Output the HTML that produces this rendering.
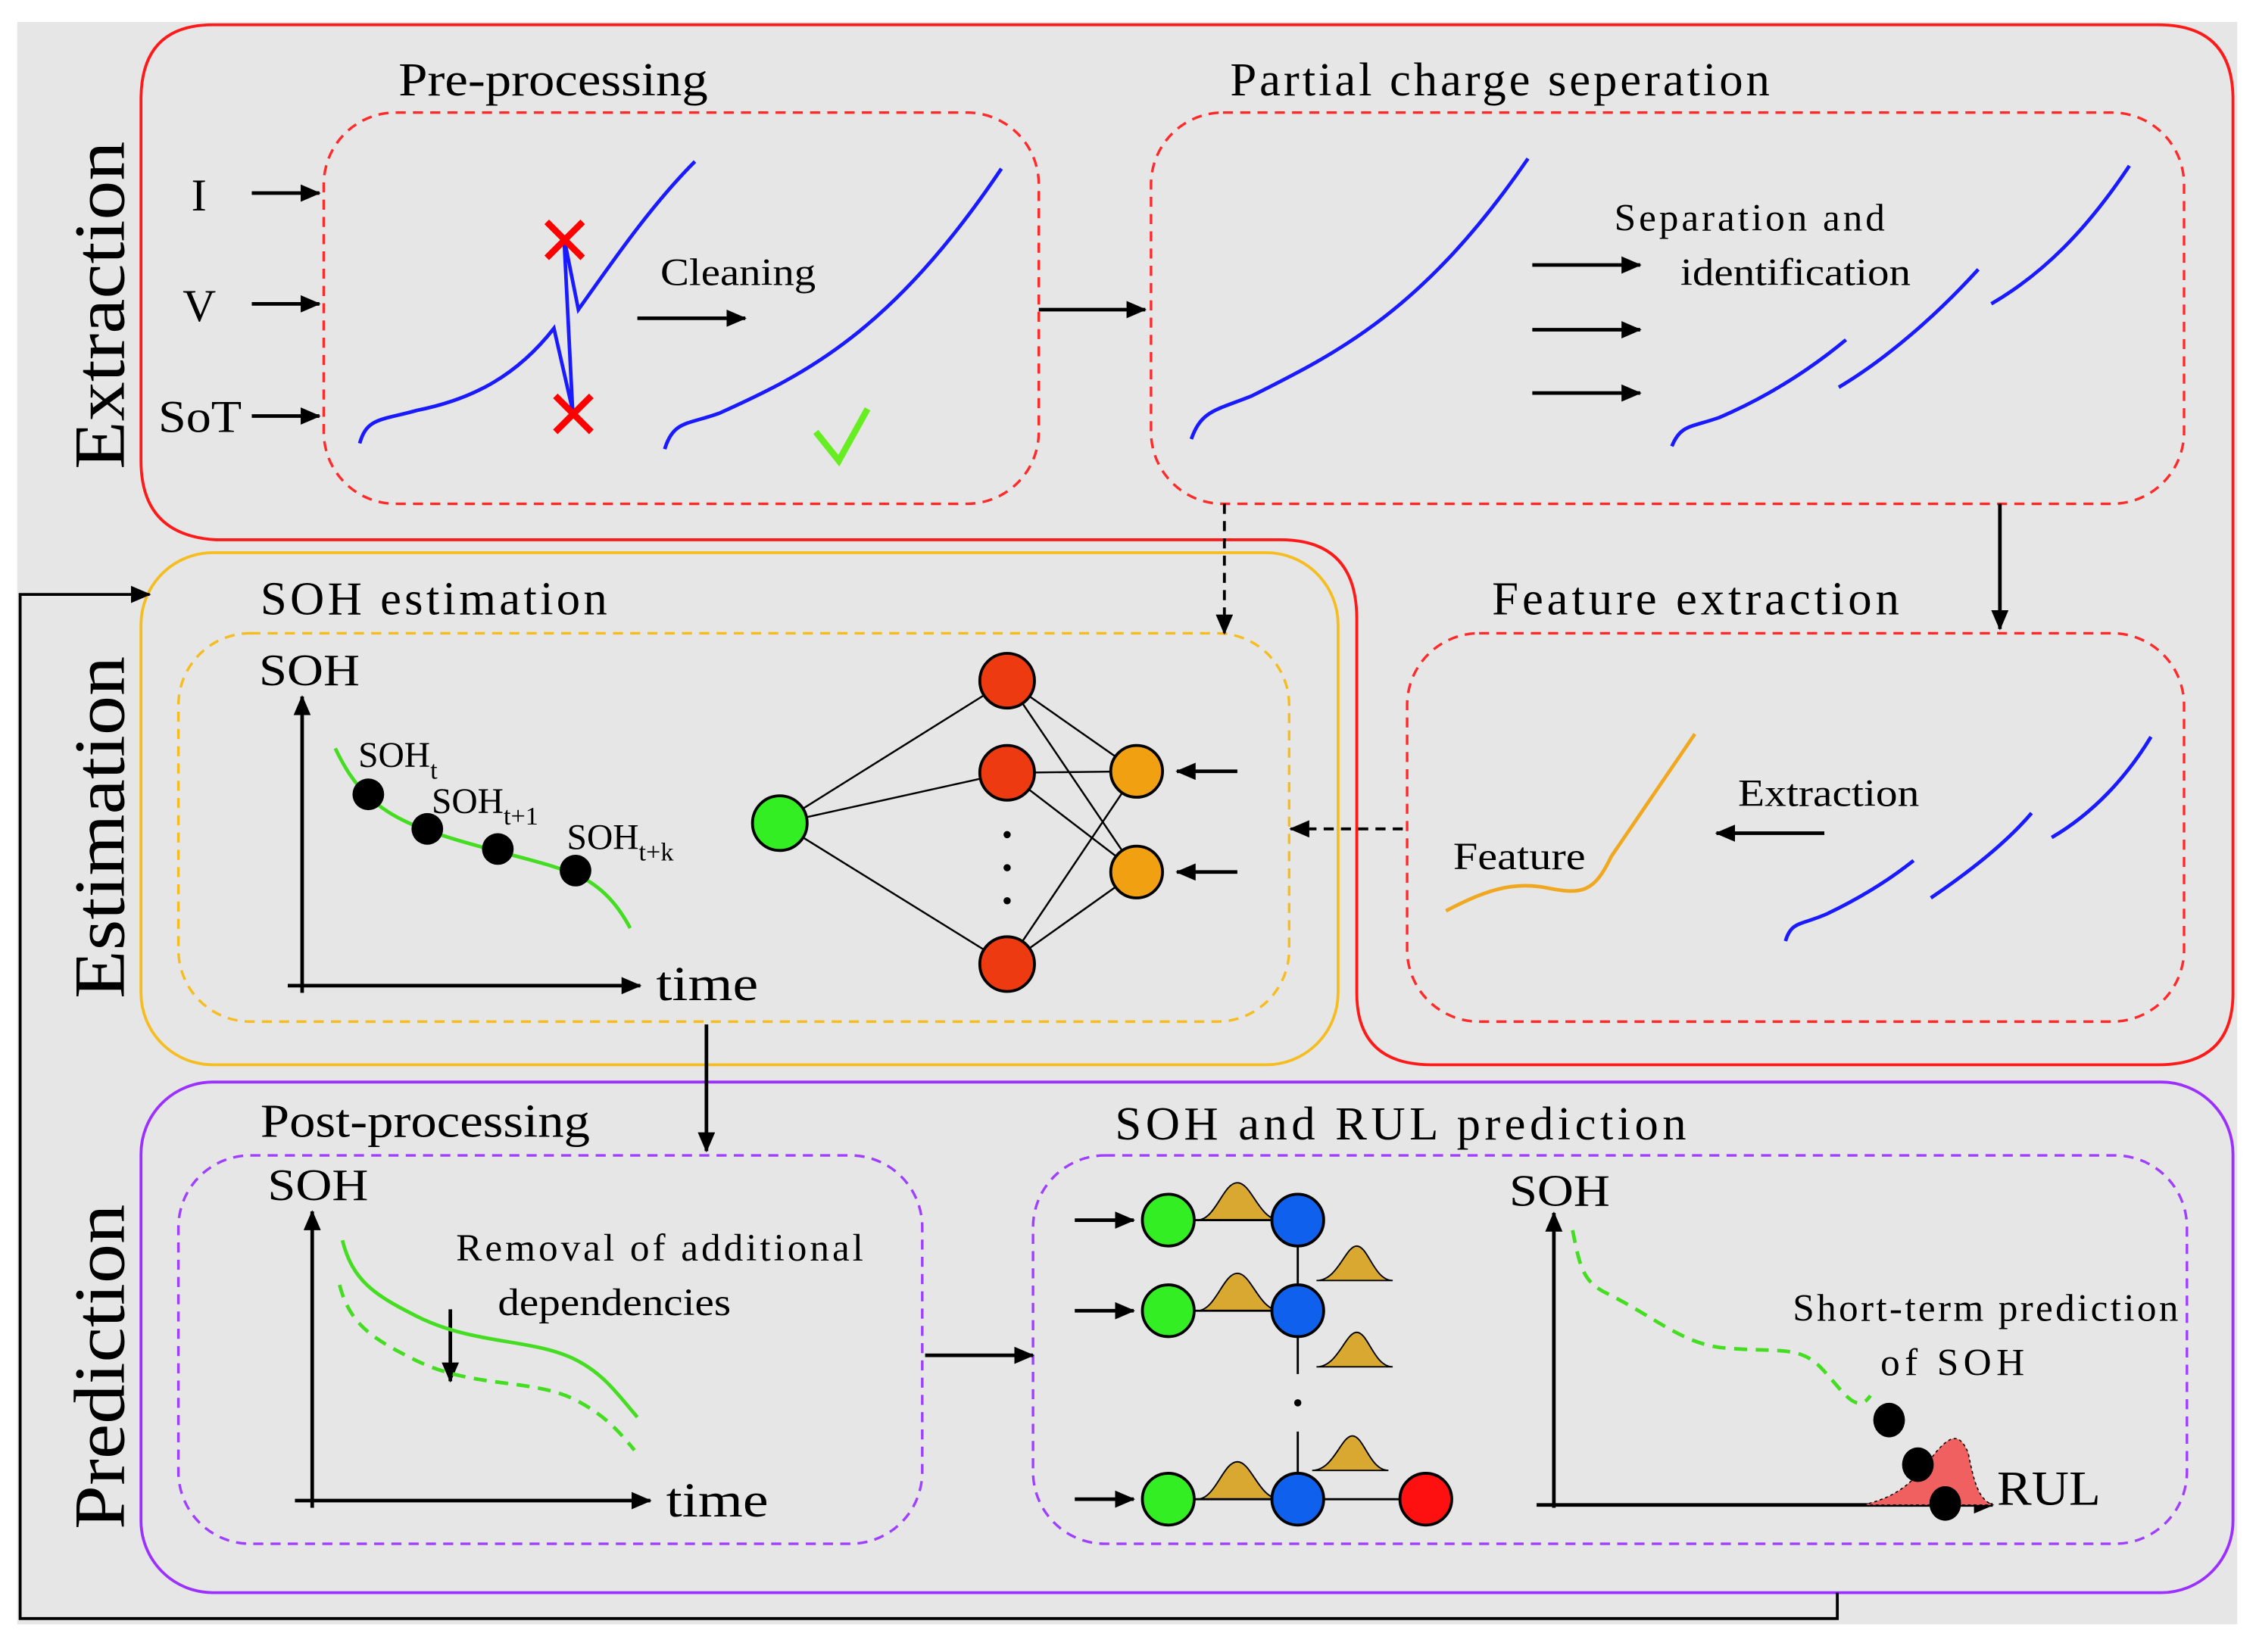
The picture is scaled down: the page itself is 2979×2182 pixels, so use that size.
<!DOCTYPE html>
<html><head><meta charset="utf-8"><style>
html,body{margin:0;padding:0;background:#fff;}
svg{display:block;}
text{font-family:"Liberation Serif",serif;fill:#000;}
</style></head><body>
<svg width="2979" height="2182" viewBox="0 0 1568 1148" xmlns="http://www.w3.org/2000/svg">
<defs>
<marker id="b" markerWidth="14" markerHeight="12" refX="13" refY="6" orient="auto" markerUnits="userSpaceOnUse"><path d="M0,0 L14,6 L0,12 Z" fill="#000"/></marker>
</defs>
<rect x="12" y="15" width="1543" height="1114" fill="#e6e6e6"/>

<path d="M148,17 H1500 Q1552,17 1552,69 V690 Q1552,740 1500,740 H995 Q943,740 943,690 V430 Q943,375 890,375 H150 Q98,372 98,320 V69 Q98,17 148,17 Z" fill="none" stroke="#ff1a1a" stroke-width="2"/>
<rect x="98" y="384" width="832" height="356" rx="50" fill="none" stroke="#f5bd1f" stroke-width="2"/>
<rect x="98" y="752" width="1454" height="355" rx="50" fill="none" stroke="#9b30ff" stroke-width="2"/>

<g fill="none" stroke-width="1.8" stroke-dasharray="7,5">
<rect x="225" y="78" width="497" height="272" rx="50" stroke="#ff2a2a"/>
<rect x="800" y="78" width="718" height="272" rx="50" stroke="#ff2a2a"/>
<rect x="978" y="440" width="540" height="270" rx="50" stroke="#ff2a2a"/>
<rect x="124" y="440" width="772" height="270" rx="50" stroke="#f5bd1f"/>
<rect x="124" y="803" width="517" height="270" rx="50" stroke="#a040ff"/>
<rect x="718" y="803" width="802" height="270" rx="50" stroke="#a040ff"/>
</g>

<text transform="translate(86,212) rotate(-90)" font-size="50" text-anchor="middle" textLength="228" lengthAdjust="spacingAndGlyphs">Extraction</text>
<text transform="translate(86,575) rotate(-90)" font-size="50" text-anchor="middle" textLength="238" lengthAdjust="spacingAndGlyphs">Estimation</text>
<text transform="translate(86,950) rotate(-90)" font-size="50" text-anchor="middle" textLength="226" lengthAdjust="spacingAndGlyphs">Prediction</text>

<g font-size="33">
<text x="277" y="66" textLength="215" lengthAdjust="spacingAndGlyphs">Pre-processing</text>
<text x="855" y="66" textLength="375" lengthAdjust="spacing">Partial charge seperation</text>
<text x="181" y="427" textLength="241" lengthAdjust="spacing">SOH estimation</text>
<text x="1037" y="427" textLength="283" lengthAdjust="spacing">Feature extraction</text>
<text x="181" y="790" textLength="229" lengthAdjust="spacingAndGlyphs">Post-processing</text>
<text x="775" y="792" textLength="397" lengthAdjust="spacing">SOH and RUL prediction</text>
</g>

<polyline points="1277,1107 1277,1125 14,1125 14,413 104,413" fill="none" stroke="#000" stroke-width="2" marker-end="url(#b)"/>

<g stroke="#000" stroke-width="2.5" fill="none" marker-end="url(#b)">
<line x1="175" y1="134" x2="222" y2="134"/>
<line x1="175" y1="211" x2="222" y2="211"/>
<line x1="175" y1="289" x2="222" y2="289"/>
<line x1="443" y1="221" x2="518" y2="221"/>
<line x1="722" y1="215" x2="796" y2="215"/>
<line x1="1065" y1="184" x2="1140" y2="184"/>
<line x1="1065" y1="229" x2="1140" y2="229"/>
<line x1="1065" y1="273" x2="1140" y2="273"/>
<line x1="1390" y1="350" x2="1390" y2="437"/>
<line x1="1268" y1="579" x2="1193" y2="579"/>
<line x1="491" y1="712" x2="491" y2="800"/>
<line x1="643" y1="942" x2="718" y2="942"/>
<line x1="860" y1="536" x2="818" y2="536"/>
<line x1="860" y1="606" x2="818" y2="606"/>
<line x1="747" y1="848" x2="788" y2="848"/>
<line x1="747" y1="911" x2="788" y2="911"/>
<line x1="747" y1="1042" x2="788" y2="1042"/>
<line x1="313" y1="910" x2="313" y2="960"/>
</g>
<g stroke="#000" stroke-width="2" fill="none" stroke-dasharray="7,5" marker-end="url(#b)">
<line x1="851" y1="350" x2="851" y2="440"/>
<line x1="975" y1="576" x2="897" y2="576"/>
</g>

<g font-size="32">
<text x="133" y="146">I</text>
<text x="127" y="223">V</text>
<text x="110" y="300" textLength="58" lengthAdjust="spacingAndGlyphs">SoT</text>
</g>
<text x="459" y="198" font-size="27" textLength="108" lengthAdjust="spacingAndGlyphs">Cleaning</text>
<text x="1122" y="160" font-size="27" textLength="188" lengthAdjust="spacing">Separation and</text>
<text x="1168" y="198" font-size="27" textLength="160" lengthAdjust="spacingAndGlyphs">identification</text>
<text x="1208" y="560" font-size="27" textLength="126" lengthAdjust="spacingAndGlyphs">Extraction</text>
<text x="1010" y="604" font-size="27" textLength="92" lengthAdjust="spacingAndGlyphs">Feature</text>

<g fill="none" stroke="#1a1aff" stroke-width="2.5">
<path d="M250,308 C255,290 265,292 290,285 C330,277 360,260 385,228 L398,285 L392,165 L402,215 C420,190 450,145 483,112"/>
<path d="M462,312 C468,292 478,295 500,287 C560,260 620,230 696,117"/>
<path d="M828,305 C835,285 845,285 870,275 C930,245 990,215 1062,110"/>
<path d="M1162,310 C1168,295 1175,297 1195,290 C1230,275 1260,255 1283,236"/>
<path d="M1278,269 C1310,250 1345,220 1375,187"/>
<path d="M1384,211 C1420,190 1450,160 1480,115"/>
<path d="M1241,654 C1245,640 1252,643 1270,635 C1295,623 1315,610 1330,598"/>
<path d="M1342,624 C1370,605 1395,585 1412,565"/>
<path d="M1426,582 C1455,565 1478,540 1495,512"/>
</g>
<g stroke="#ff0000" stroke-width="4.5">
<line x1="380" y1="154" x2="405" y2="179"/><line x1="405" y1="154" x2="380" y2="179"/>
<line x1="386" y1="275" x2="411" y2="300"/><line x1="411" y1="275" x2="386" y2="300"/>
</g>
<path d="M567,300 L583,320 L603,284" fill="none" stroke="#66ee22" stroke-width="4.5"/>
<path d="M1005,633 C1030,620 1050,612 1075,617 C1100,622 1108,620 1120,595 L1178,510" fill="none" stroke="#f0a820" stroke-width="2.5"/>

<g stroke="#000" stroke-width="2.5" fill="none">
<line x1="210" y1="690" x2="210" y2="484" marker-end="url(#b)"/>
<line x1="200" y1="685" x2="445" y2="685" marker-end="url(#b)"/>
</g>
<path d="M233,520 C245,545 260,565 300,578 C340,592 380,598 405,610 C420,618 430,630 438,645" fill="none" stroke="#44dd22" stroke-width="2.5"/>
<g fill="#000"><circle cx="256" cy="552" r="11"/><circle cx="297" cy="576" r="11"/><circle cx="346" cy="590" r="11"/><circle cx="400" cy="605" r="11"/></g>
<text x="180" y="476" font-size="31" textLength="70" lengthAdjust="spacingAndGlyphs">SOH</text>
<text x="249" y="533" font-size="25">SOH<tspan font-size="18" dy="8">t</tspan></text>
<text x="300" y="565" font-size="25">SOH<tspan font-size="18" dy="8">t+1</tspan></text>
<text x="394" y="590" font-size="25">SOH<tspan font-size="18" dy="8">t+k</tspan></text>
<text x="456" y="695" font-size="34" textLength="71" lengthAdjust="spacingAndGlyphs">time</text>

<g stroke="#000" stroke-width="1.3">
<line x1="542" y1="572" x2="700" y2="473"/><line x1="542" y1="572" x2="700" y2="537"/><line x1="542" y1="572" x2="700" y2="670"/>
<line x1="700" y1="473" x2="790" y2="536"/><line x1="700" y1="473" x2="790" y2="606"/>
<line x1="700" y1="537" x2="790" y2="536"/><line x1="700" y1="537" x2="790" y2="606"/>
<line x1="700" y1="670" x2="790" y2="536"/><line x1="700" y1="670" x2="790" y2="606"/>
</g>
<g stroke="#000" stroke-width="2">
<circle cx="542" cy="572" r="19" fill="#33ee22"/>
<circle cx="700" cy="473" r="19" fill="#ee3a10"/>
<circle cx="700" cy="537" r="19" fill="#ee3a10"/>
<circle cx="700" cy="670" r="19" fill="#ee3a10"/>
<circle cx="790" cy="536" r="18" fill="#f0a010"/>
<circle cx="790" cy="606" r="18" fill="#f0a010"/>
</g>
<g fill="#000"><circle cx="700" cy="580" r="2.5"/><circle cx="700" cy="603" r="2.5"/><circle cx="700" cy="626" r="2.5"/></g>

<g stroke="#000" stroke-width="2.5" fill="none">
<line x1="217" y1="1048" x2="217" y2="842" marker-end="url(#b)"/>
<line x1="205" y1="1043" x2="452" y2="1043" marker-end="url(#b)"/>
</g>
<path d="M238,862 C245,890 260,900 290,915 C330,935 370,930 400,945 C420,955 430,970 443,985" fill="none" stroke="#44dd22" stroke-width="2.5"/>
<path d="M236,893 C243,920 258,930 288,945 C328,965 368,958 398,972 C418,982 428,992 441,1008" fill="none" stroke="#44dd22" stroke-width="2.5" stroke-dasharray="9,6"/>
<text x="186" y="834" font-size="31" textLength="70" lengthAdjust="spacingAndGlyphs">SOH</text>
<text x="317" y="876" font-size="27" textLength="283" lengthAdjust="spacing">Removal of additional</text>
<text x="346" y="914" font-size="27" textLength="162" lengthAdjust="spacingAndGlyphs">dependencies</text>
<text x="463" y="1054" font-size="34" textLength="71" lengthAdjust="spacingAndGlyphs">time</text>

<g fill="#d8a830" stroke="#000" stroke-width="1">
<path d="M832,848 C845,848 850,822 860,822 C870,822 875,848 890,848 Z"/>
<path d="M832,911 C845,911 850,885 860,885 C870,885 875,911 890,911 Z"/>
<path d="M832,1042 C845,1042 850,1016 860,1016 C870,1016 875,1042 890,1042 Z"/>
<path d="M915,890 C930,890 935,866 943,866 C951,866 955,890 968,890 Z"/>
<path d="M915,950 C930,950 935,926 943,926 C951,926 955,950 968,950 Z"/>
<path d="M912,1022 C927,1022 932,998 940,998 C948,998 952,1022 965,1022 Z"/>
</g>
<g stroke="#000" stroke-width="1.5">
<line x1="812" y1="848" x2="902" y2="848"/><line x1="812" y1="911" x2="902" y2="911"/><line x1="812" y1="1042" x2="991" y2="1042"/>
<line x1="902" y1="848" x2="902" y2="955"/><line x1="902" y1="995" x2="902" y2="1042"/>
</g>
<circle cx="902" cy="975" r="2.5" fill="#000"/>
<g stroke="#000" stroke-width="2">
<circle cx="812" cy="848" r="18" fill="#33ee22"/>
<circle cx="812" cy="911" r="18" fill="#33ee22"/>
<circle cx="812" cy="1042" r="18" fill="#33ee22"/>
<circle cx="902" cy="848" r="18" fill="#1060ee"/>
<circle cx="902" cy="911" r="18" fill="#1060ee"/>
<circle cx="902" cy="1042" r="18" fill="#1060ee"/>
<circle cx="991" cy="1042" r="18" fill="#ff1010"/>
</g>

<g stroke="#000" stroke-width="2.5" fill="none">
<line x1="1080" y1="1048" x2="1080" y2="843" marker-end="url(#b)"/>
<line x1="1068" y1="1046" x2="1385" y2="1046" marker-end="url(#b)"/>
</g>
<path d="M1295,1046 C1320,1040 1330,1030 1345,1010 C1355,998 1362,995 1368,1010 C1372,1030 1375,1042 1385,1046 Z" fill="#f06060" stroke="#000" stroke-width="0.8" stroke-dasharray="2,2"/>
<path d="M1093,855 C1098,880 1100,890 1115,898 C1150,915 1170,935 1200,937 C1235,940 1250,935 1265,950 C1280,965 1290,985 1300,970" fill="none" stroke="#44dd22" stroke-width="2.5" stroke-dasharray="9,6"/>
<g fill="#000"><ellipse cx="1313" cy="987" rx="11" ry="12"/><ellipse cx="1333" cy="1018" rx="11" ry="12"/><ellipse cx="1352" cy="1045" rx="11" ry="12"/></g>
<text x="1049" y="838" font-size="31" textLength="70" lengthAdjust="spacingAndGlyphs">SOH</text>
<text x="1246" y="918" font-size="27" textLength="268" lengthAdjust="spacing">Short-term prediction</text>
<text x="1307" y="956" font-size="27" textLength="100" lengthAdjust="spacing">of SOH</text>
<text x="1388" y="1046" font-size="34" textLength="72" lengthAdjust="spacingAndGlyphs">RUL</text>
</svg>
</body></html>
